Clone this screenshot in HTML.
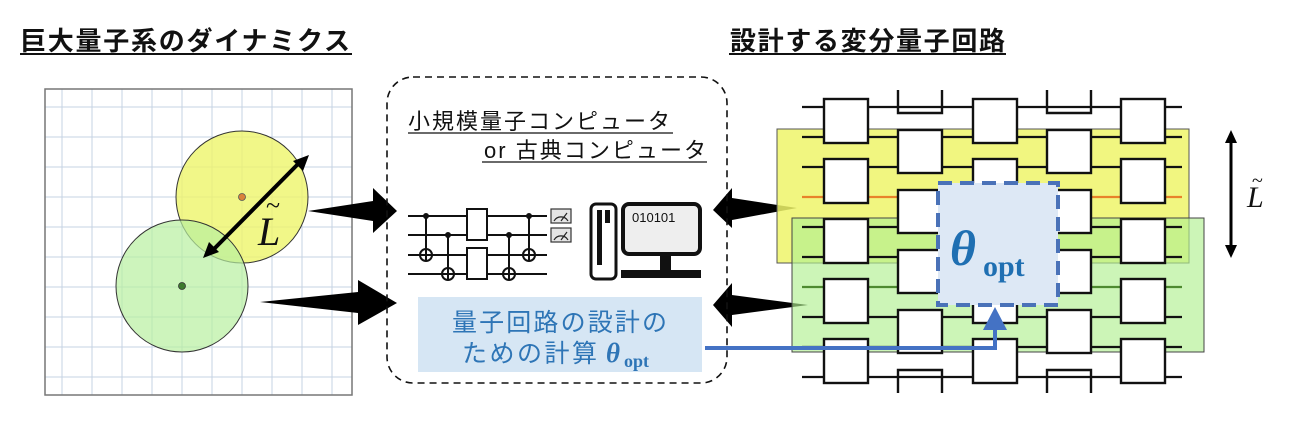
<!DOCTYPE html>
<html><head><meta charset="utf-8"><style>
html,body{margin:0;padding:0;background:#fff;width:1299px;height:429px;overflow:hidden}
svg{display:block}
text{font-family:"Liberation Sans","Noto Sans CJK JP",sans-serif}
</style></head><body>
<svg id="s" width="1299" height="429" viewBox="0 0 1299 429" xmlns="http://www.w3.org/2000/svg">
<text x="20" y="50" font-size="26" font-weight="bold" textLength="330" fill="#111">巨大量子系のダイナミクス</text>
<line x1="20" y1="54" x2="352" y2="54" stroke="#111" stroke-width="2"/>
<text x="730" y="50" font-size="26" font-weight="bold" textLength="275" fill="#111">設計する変分量子回路</text>
<line x1="729" y1="54" x2="1006" y2="54" stroke="#111" stroke-width="2"/>

<g id="grid" stroke="#c5d3e3" stroke-width="1"></g>
<rect x="45" y="89" width="307" height="306" fill="none" stroke="#777" stroke-width="1.5"/>
<circle cx="242" cy="197" r="66" fill="#eef56a" fill-opacity="0.8" stroke="#333" stroke-width="1"/>
<circle cx="182" cy="286" r="66" fill="#b8f0a0" fill-opacity="0.7" stroke="#333" stroke-width="1"/>
<circle cx="242" cy="197" r="3.5" fill="#d9823a" stroke="#555" stroke-width="0.8"/>
<circle cx="182" cy="286" r="3.5" fill="#3d7a2e" stroke="#333" stroke-width="0.8"/>
<line x1="212" y1="251" x2="300" y2="162" stroke="#000" stroke-width="4"/>
<polygon points="203,258 209,242 219,252" fill="#000"/>
<polygon points="309,155 303,171 293,161" fill="#000"/>
<text x="258" y="245" font-size="40" font-style="italic" fill="#111" style="font-family:'Liberation Serif',serif">L</text>
<text x="266" y="214" font-size="26" fill="#111" style="font-family:'Liberation Serif',serif">~</text>

<polygon points="308,211 373,201 373,188 397,211 373,233 373,221" fill="#000"/>
<polygon points="260,302 358,292 358,280 397,303 358,325 358,313" fill="#000"/>
<polygon points="797,208 732,198 732,188 713,210 732,228 732,220" fill="#000"/>
<polygon points="808,305 732,295 732,283 713,305 732,327 732,315" fill="#000"/>

<rect x="387" y="77" width="340" height="306" rx="26" fill="none" stroke="#111" stroke-width="1.6" stroke-dasharray="7,5"/>
<text x="408" y="129" font-size="22" textLength="262" fill="#111">小規模量子コンピュータ</text>
<line x1="408" y1="133" x2="673" y2="133" stroke="#111" stroke-width="1.2"/>
<text x="484" y="158" font-size="22" textLength="222" fill="#111">or 古典コンピュータ</text>
<line x1="482" y1="162" x2="707" y2="162" stroke="#111" stroke-width="1.2"/>

<g stroke="#111" stroke-width="2" fill="none">
<line x1="408" y1="216" x2="547" y2="216"/><line x1="408" y1="235" x2="547" y2="235"/>
<line x1="408" y1="255" x2="547" y2="255"/><line x1="408" y1="274" x2="547" y2="274"/>
<line x1="426" y1="216" x2="426" y2="261"/><circle cx="426" cy="255" r="6"/>
<line x1="448" y1="235" x2="448" y2="280"/><circle cx="448" cy="274" r="6"/>
<line x1="509" y1="235" x2="509" y2="280"/><circle cx="509" cy="274" r="6"/>
<line x1="529" y1="216" x2="529" y2="261"/><circle cx="529" cy="255" r="6"/>
<rect x="467" y="209" width="20" height="31" fill="#fff"/>
<rect x="467" y="248" width="20" height="31" fill="#fff"/>
</g>
<g fill="#111"><circle cx="426" cy="216" r="3"/><circle cx="448" cy="235" r="3"/><circle cx="509" cy="235" r="3"/><circle cx="529" cy="216" r="3"/></g>
<g stroke="#333" stroke-width="1.2" fill="#e4e4e4">
<rect x="551" y="209" width="20" height="14"/><rect x="551" y="228" width="20" height="14"/>
</g>
<g stroke="#222" stroke-width="1.2" fill="none">
<path d="M554,221 A8,8 0 0 1 568,221"/><line x1="561" y1="221" x2="567" y2="213"/>
<path d="M554,240 A8,8 0 0 1 568,240"/><line x1="561" y1="240" x2="567" y2="232"/>
</g>

<rect x="591" y="204" width="25" height="75" rx="5" fill="#fff" stroke="#111" stroke-width="3"/>
<rect x="597" y="210" width="5" height="55" fill="#111"/>
<rect x="605" y="210" width="5" height="13" fill="#111"/>
<rect x="623" y="204" width="77" height="50" rx="6" fill="#eee" stroke="#111" stroke-width="4"/>
<text x="632" y="222" font-size="13" fill="#111">010101</text>
<rect x="660" y="256" width="11" height="14" fill="#111"/>
<rect x="621" y="270" width="80" height="8" fill="#111"/>

<rect x="418" y="297" width="284" height="75" fill="#d6e6f4"/>
<text x="452" y="331" font-size="25" fill="#2e75b6" textLength="215">量子回路の設計の</text>
<text x="462" y="362" font-size="25" fill="#2e75b6" textLength="135">ための計算</text>
<text x="606" y="362" font-size="27" font-weight="bold" font-style="italic" fill="#2e75b6" style="font-family:'Liberation Serif',serif">θ</text>
<text x="624" y="367" font-size="18" font-weight="bold" fill="#2e75b6" style="font-family:'Liberation Serif',serif">opt</text>

<rect x="777" y="129" width="412" height="134" fill="#eef56a" fill-opacity="0.85" stroke="#555" stroke-width="1"/>
<rect x="792" y="218" width="412" height="134" fill="#b0f090" fill-opacity="0.65" stroke="#444" stroke-width="1"/>
<g id="wires" stroke-width="2.2"></g>
<g id="gates" stroke="#111" stroke-width="2.4" fill="#fff"></g>
<rect x="938" y="183" width="120" height="122" fill="#dde8f5" stroke="#4a72b8" stroke-width="4" stroke-dasharray="14,8"/>
<text x="950" y="265" font-size="50" font-weight="bold" font-style="italic" fill="#1f6fb2" style="font-family:'Liberation Serif',serif">θ</text>
<text x="983" y="276" font-size="30" font-weight="bold" fill="#1f6fb2" style="font-family:'Liberation Serif',serif">opt</text>
<polyline points="705,348 995,348 995,325" fill="none" stroke="#4472c4" stroke-width="4"/>
<polygon points="995,307 983,330 1007,330" fill="#4472c4"/>

<line x1="1231" y1="138" x2="1231" y2="250" stroke="#000" stroke-width="3"/>
<polygon points="1231,130 1225,143 1237,143" fill="#000"/>
<polygon points="1231,258 1225,245 1237,245" fill="#000"/>
<text x="1247" y="207" font-size="30" font-style="italic" fill="#111" style="font-family:'Liberation Serif',serif">L</text>
<text x="1252" y="187" font-size="20" fill="#111" style="font-family:'Liberation Serif',serif">~</text>
</svg>
<script>
var NS="http://www.w3.org/2000/svg";
function el(p,t,a){var e=document.createElementNS(NS,t);for(var k in a)e.setAttribute(k,a[k]);document.getElementById(p).appendChild(e);return e;}
for(var i=0;i<10;i++){var x=62+30*i;el("grid","line",{x1:x,y1:89,x2:x,y2:395});var y=107+30*i;el("grid","line",{x1:45,y1:y,x2:352,y2:y});}
for(var i=0;i<10;i++){var y=107+30*i;var c=i==3?"#e8822a":(i==6?"#4e8a30":"#111");el("wires","line",{x1:802,y1:y,x2:1182,y2:y,stroke:c});}
var A=[824,973,1121],B=[898,1047];
A.forEach(function(x){for(var j=0;j<5;j++){var y=99+60*j;el("gates","rect",{x:x,y:y,width:44,height:44});}});
B.forEach(function(x){
 el("gates","path",{d:"M"+x+",90 V113 H"+(x+44)+" V90",fill:"none"});
 for(var j=0;j<4;j++){var y=130+60*j;el("gates","rect",{x:x,y:y,width:44,height:43});}
 el("gates","path",{d:"M"+x+",393 V370 H"+(x+44)+" V393",fill:"none"});
});
</script>
</body></html>
